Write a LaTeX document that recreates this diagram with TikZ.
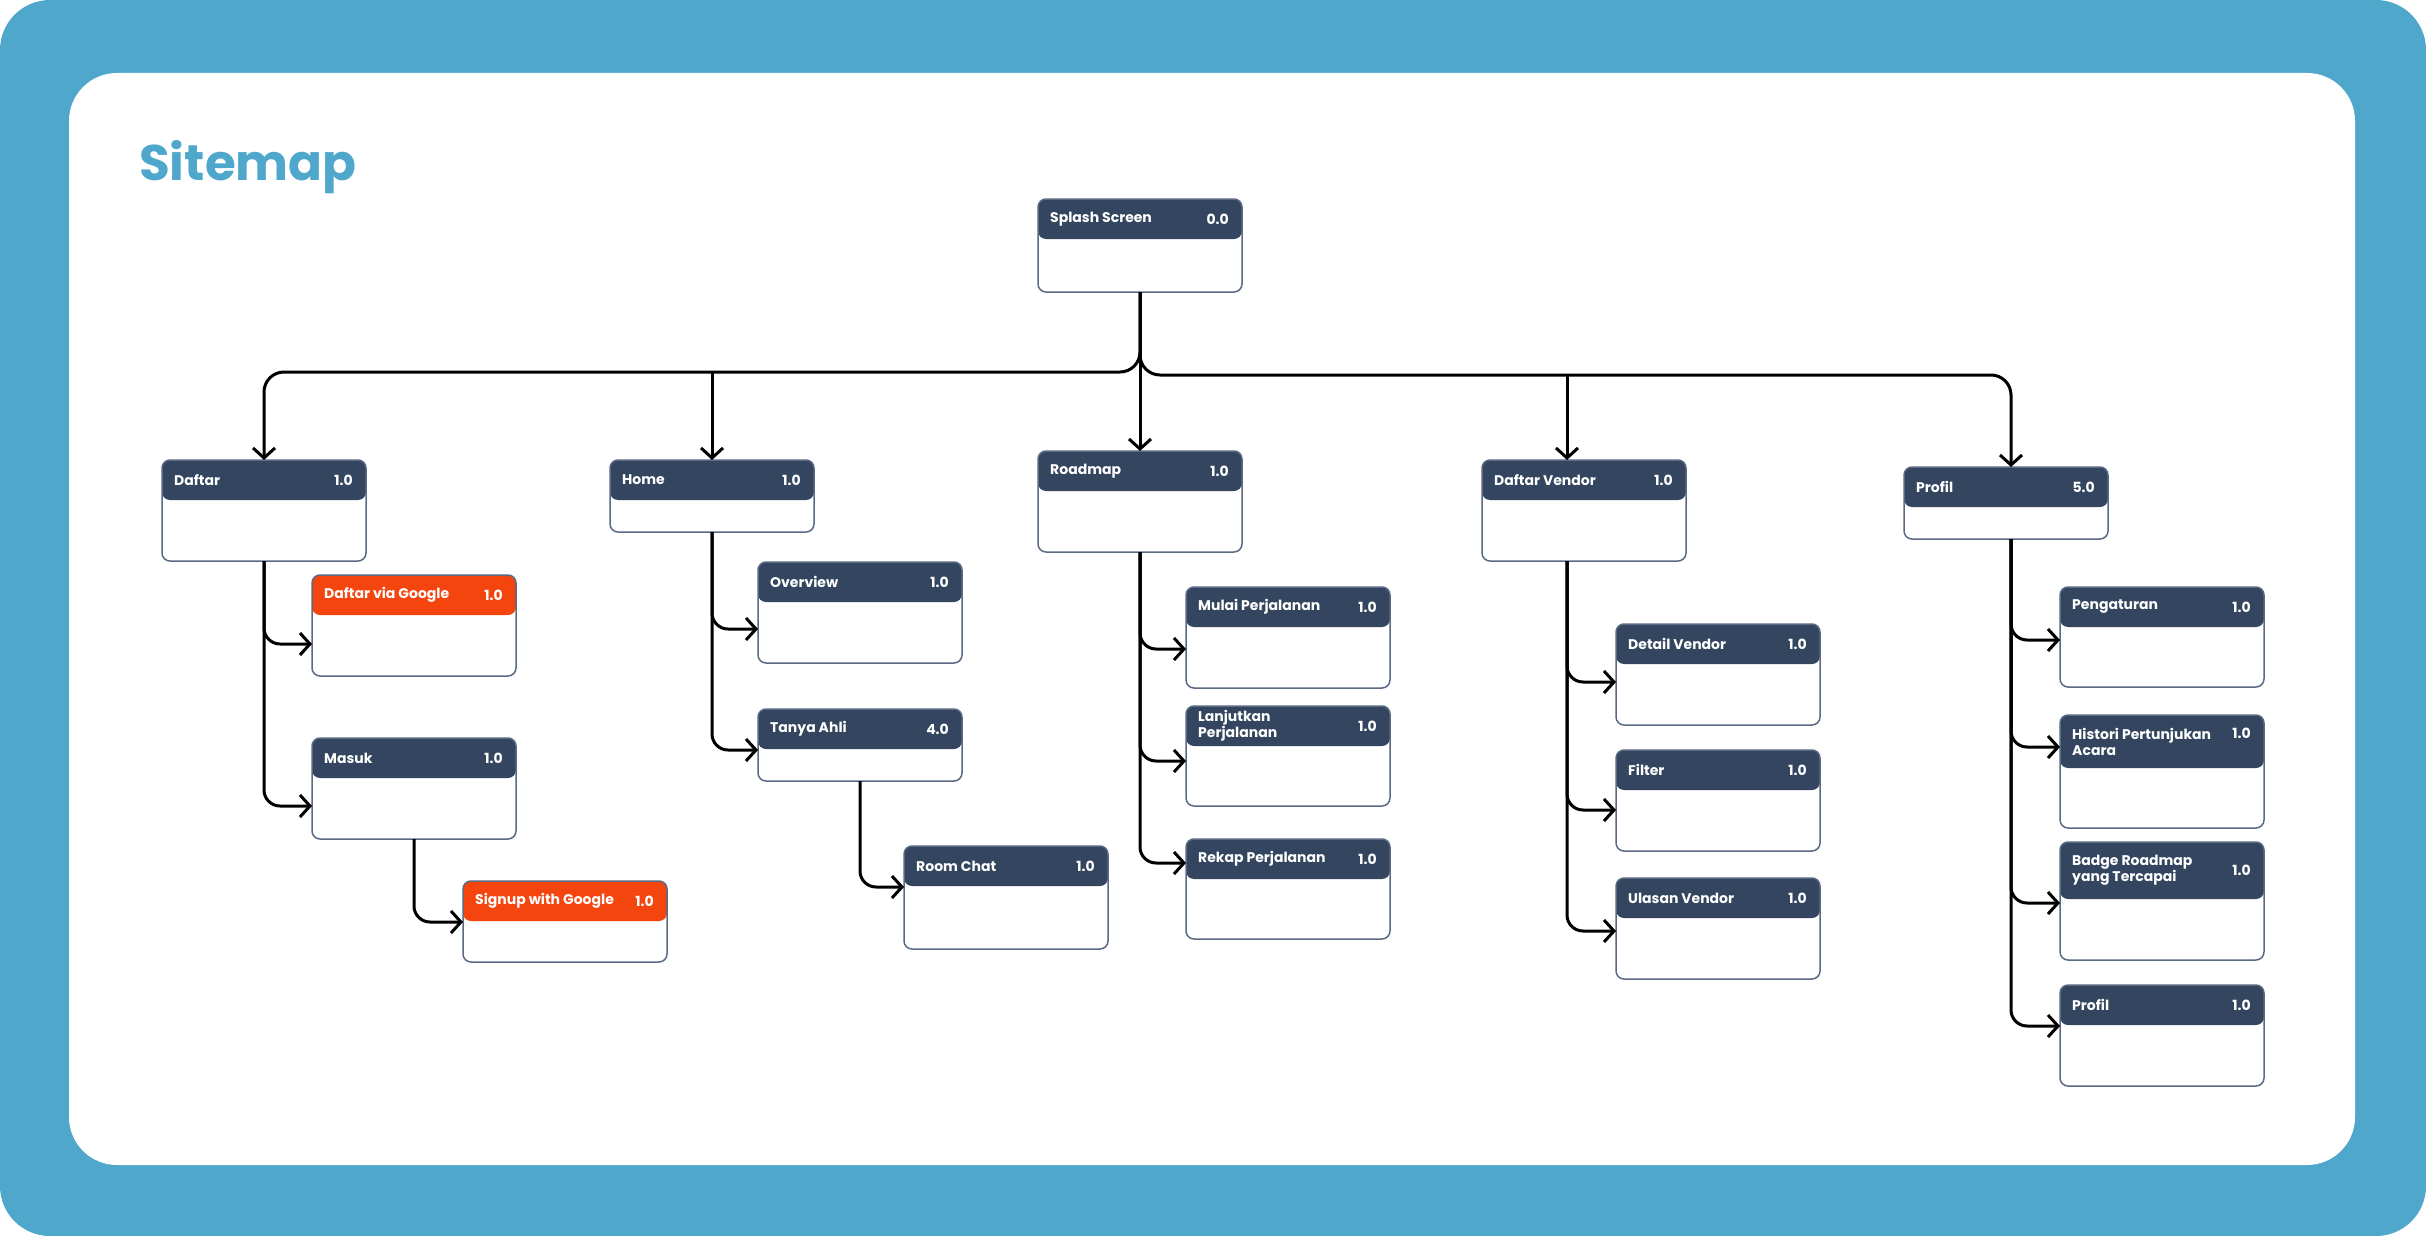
\documentclass[tikz,border=0pt]{standalone}
\usepackage{fontspec}
\setmainfont{Poppins}
\usetikzlibrary{arrows.meta,positioning}

\definecolor{frameblue}{HTML}{4FA8CC}
\definecolor{hdrblue}{HTML}{34465F}
\definecolor{hdrorange}{HTML}{F4450F}
\definecolor{boxedge}{HTML}{5A6984}

\tikzset{
  screenbox/.style={draw=boxedge, line width=1.5pt, fill=white, rounded corners=8pt,
    minimum width=204pt, inner sep=0pt, outer sep=0pt, anchor=north west},
  screentitle/.style={text=white, font=\bfseries\fontsize{14}{16}\selectfont,
    align=left, inner sep=0pt, anchor=west},
  screennum/.style={text=white, font=\bfseries\fontsize{14}{16}\selectfont,
    align=right, inner sep=0pt, anchor=east},
  link/.style={line width=3pt, rounded corners=16pt,
    -{Straight Barb[length=10pt,width=22pt]}},
}

% screen box: [header colour]{name}{top left}{height}{header height}{title}{number}
\newcommand{\screen}[7][hdrblue]{%
  \node[screenbox, minimum height=#4pt,
    path picture={\fill[#1] (path picture bounding box.north west)
      rectangle ([yshift=-#5pt]path picture bounding box.north east);}]
    (#2) at #3 {};
  \node[screentitle] (#2-title) at ([xshift=12pt,yshift=-#5pt/2]#2.north west) {#6};
  \node[screennum] (#2-num) at ([xshift=-13pt,yshift=-#5pt/2]#2.north east) {#7};
}

\begin{document}
\begin{tikzpicture}[x=1pt,y=-1pt]
  \useasboundingbox (0,0) rectangle (2426,1236);

  % Frame
  \fill[white] (0,0) rectangle (2426,1236);
  \fill[frameblue, rounded corners=50pt] (0,0) rectangle (2426,1236);
  \fill[white, rounded corners=48pt] (69,73) rectangle (2355,1165);
  \node[anchor=base west, inner sep=0pt, text=frameblue,
    font=\bfseries\fontsize{50}{58}\selectfont] (heading) at (139,181) {Sitemap};

  % Top level
  \screen{splash}{(1038,199)}{93}{40}{Splash Screen}{0.0}
  \screen{daftar}{(162,460)}{101}{40}{Daftar}{1.0}
  \screen{home}{(610,460)}{72}{40}{Home}{1.0}
  \screen{roadmap}{(1038,451)}{101}{40}{Roadmap}{1.0}
  \screen{vendor}{(1482,460)}{101}{40}{Daftar Vendor}{1.0}
  \screen{profil}{(1904,467)}{72}{40}{Profil}{5.0}

  % Daftar branch
  \screen[hdrorange]{viagoogle}{(312,575)}{101}{40}{Daftar via Google}{1.0}
  \screen{masuk}{(312,738)}{101}{40}{Masuk}{1.0}
  \screen[hdrorange]{signup}{(463,881)}{81}{40}{Signup with Google}{1.0}

  % Home branch
  \screen{overview}{(758,562)}{101}{40}{Overview}{1.0}
  \screen{tanya}{(758,709)}{72}{40}{Tanya Ahli}{4.0}
  \screen{roomchat}{(904,846)}{103}{40}{Room Chat}{1.0}

  % Roadmap branch
  \screen{mulai}{(1186,587)}{101}{40}{Mulai Perjalanan}{1.0}
  \screen{lanjut}{(1186,706)}{100}{40}{Lanjutkan\\Perjalanan}{1.0}
  \screen{rekap}{(1186,839)}{100}{40}{Rekap Perjalanan}{1.0}

  % Vendor branch
  \screen{detail}{(1616,624)}{101}{40}{Detail Vendor}{1.0}
  \screen{filter}{(1616,750)}{101}{40}{Filter}{1.0}
  \screen{ulasan}{(1616,878)}{101}{40}{Ulasan Vendor}{1.0}

  % Profil branch
  \screen{atur}{(2060,587)}{100}{40}{Pengaturan}{1.0}
  \screen{histori}{(2060,715)}{113}{53}{Histori Pertunjukan\\Acara}{1.0\\\phantom{0}}
  \screen{badge}{(2060,842)}{118}{57}{Badge Roadmap\\yang Tercapai}{1.0}
  \screen{profilsub}{(2060,985)}{101}{40}{Profil}{1.0}

  % Main bus
  \coordinate (busL) at (0,372);
  \coordinate (busR) at (0,375);
  \draw[link, rounded corners=20pt] (splash.south) -- (splash.south |- busL) -| (daftar.north);
  \draw[link, rounded corners=20pt] (splash.south) -- (splash.south |- busR) -| ([xshift=5pt]profil.north);
  \draw[link] (splash.south) -- (roadmap.north);
  \draw[link] (home.north |- busL) -- (home.north);
  \draw[link] ([xshift=-17pt]vendor.north |- busR) -- ([xshift=-17pt]vendor.north);

  % Sub pages
  \foreach \c/\d in {viagoogle/69, masuk/68}
    \draw[link] (daftar.south) |- ([yshift=-\d]\c.north west);
  \draw[link] (masuk.south) |- ([yshift=-41]signup.north west);
  \foreach \c/\d in {overview/67, tanya/41}
    \draw[link] (home.south) |- ([yshift=-\d]\c.north west);
  \draw[link] (tanya.south) |- ([yshift=-41]roomchat.north west);
  \foreach \c/\d in {mulai/62, lanjut/55, rekap/24}
    \draw[link] (roadmap.south) |- ([yshift=-\d]\c.north west);
  \foreach \c/\d in {detail/58, filter/60, ulasan/53}
    \draw[link] ([xshift=-17pt]vendor.south) |- ([yshift=-\d]\c.north west);
  \foreach \c/\d in {atur/53, histori/32, badge/61, profilsub/41}
    \draw[link] ([xshift=5pt]profil.south) |- ([yshift=-\d]\c.north west);
\end{tikzpicture}
\end{document}
